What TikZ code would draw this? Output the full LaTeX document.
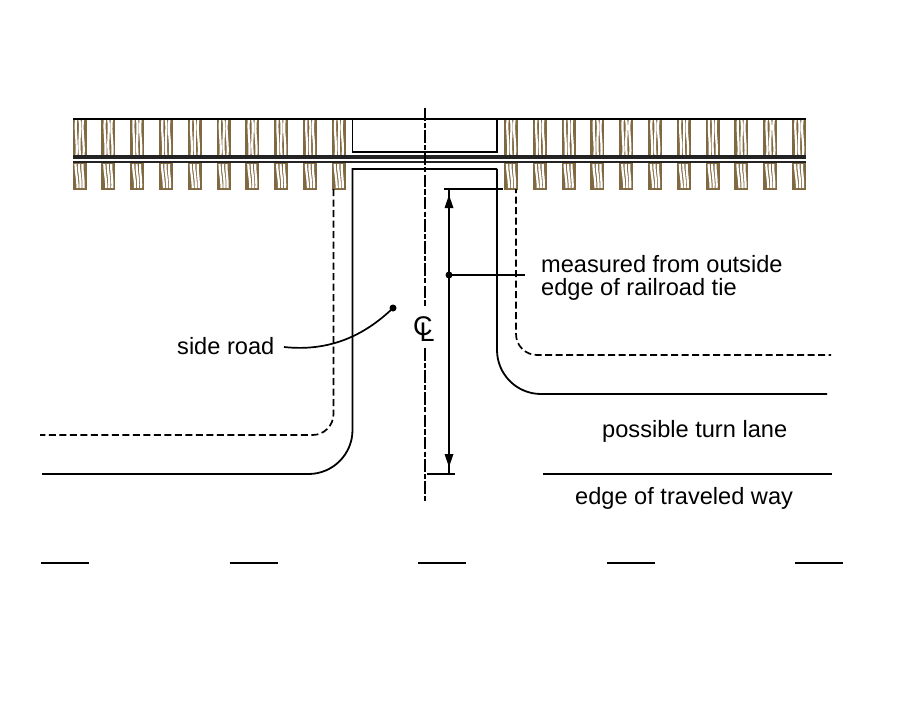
\documentclass[tikz,border=0pt]{standalone}
\usepackage{fontspec}
\setmainfont{Liberation Sans}

\definecolor{woodbrown}{RGB}{128,104,64}
\definecolor{railgray}{RGB}{35,35,35}

\tikzset{
	road/.style={line width=1.8pt, black},
	roaddash/.style={line width=1.7pt, black, dash pattern=on 7pt off 3.5pt},
	centerline/.style={line width=1.8pt, black, dash pattern=on 12.5pt off 2.3pt on 5.1pt off 2.3pt},
	dimline/.style={line width=1.7pt, black},
	streak/.style={line width=2.2pt, white},
	tiebox/.style={line width=1pt, woodbrown, fill=woodbrown},
	textlabel/.style={inner sep=0pt, anchor=base west, font=\fontsize{23.6}{23}\selectfont},
	pics/tietop/.style={code={
		\draw [tiebox] (0,0) rectangle (13,38);
		\draw [streak] (3,1) .. controls (2,12) and (4.5,24) .. (3.5,37);
		\draw [streak] (6.5,1) .. controls (8,10) and (5.5,20) .. (7,37);
		\draw [streak] (10,1) .. controls (8.5,14) and (11.5,22) .. (10.5,37);
	}},
	pics/tiebot/.style={code={
		\draw [tiebox] (0,0) rectangle (13,26);
		\draw [streak] (2.5,1) .. controls (2.5,8) and (4.5,16) .. (4.5,25);
		\draw [streak] (6,1) .. controls (5.5,8) and (8,14) .. (7.5,25);
		\draw [streak] (9.5,1) .. controls (9,8) and (11,16) .. (10.5,25);
	}},
}

\begin{document}
\begin{tikzpicture}[x=1pt, y=-1pt]
	\useasboundingbox (0,0) rectangle (915,707);

	% railroad ties
	\foreach \i in {0,...,9} {
		\pic at ({73+28.8*\i},119) {tietop};
		\pic at ({73+28.8*\i},163) {tiebot};
	}
	\foreach \i in {0,...,10} {
		\pic at ({504.5+28.8*\i},119) {tietop};
		\pic at ({504.5+28.8*\i},163) {tiebot};
	}

	% rails and crossing
	\draw [road] (73,119) -- (806,119);
	\draw [railgray, line width=4.4pt] (73,157.2) -- (806,157.2);
	\draw [railgray, line width=1.8pt] (73,162.2) -- (806,162.2);
	\draw [road] (352.5,119) -- (352.5,152) -- (497,152) -- (497,119);

	% side road
	\draw [road] (497,169) -- (352.5,169) -- (352.5,430) arc (0:90:44) -- (42,474);
	\draw [road] (497,169) -- (497,350) arc (180:90:44) -- (827,394);
	\draw [roaddash] (333.5,189) -- (333.5,414) arc (0:90:21) -- (40,435);
	\draw [roaddash, dash phase=3pt] (516,189) -- (516,334) arc (180:90:21) -- (831,355);
	\draw [road] (543,474) -- (832,474);
	\foreach \x in {41,229.5,418,606.5,795}
		\draw [road] (\x,563) -- +(48,0);

	% center line
	\draw [centerline] (425,108) -- (425,307);
	\draw [centerline] (425,348) -- (425,502);
	\node (cl) at (424,329) [inner sep=0pt, font=\fontsize{27}{27}\selectfont] {C\kern-13pt\raisebox{-6pt}{L}};

	% dimension
	\coordinate (dimtop) at (449,189);
	\coordinate (dimbot) at (449,474);
	\coordinate (dimdot) at (449,275);
	\coordinate (dimend) at (525,275);
	\draw [dimline] (444,189) -- (503,189);
	\draw [dimline] (427,474) -- (455,474);
	\draw [dimline] (dimtop) -- (dimbot);
	\fill (449,195) -- (453.5,208) -- (444.5,208);
	\fill (449,467) -- (453.5,454) -- (444.5,454);
	\fill (dimdot) circle (3.5);
	\draw [dimline] (dimdot) -- (dimend);
	\node (measured) at (541,272) [textlabel] {measured from outside};
	\node (tie) at (541,295) [textlabel] {edge of railroad tie};

	% labels
	\coordinate (roaddot) at (393,308);
	\coordinate (roadend) at (284,347);
	\fill (roaddot) circle (3.5);
	\draw [dimline] (roaddot) .. controls (365,335) and (330,352) .. (roadend);
	\node (sideroad) at (177,354) [textlabel] {side road};
	\node (turnlane) at (602,437) [textlabel] {possible turn lane};
	\node (edgeway) at (575,504) [textlabel] {edge of traveled way};
\end{tikzpicture}
\end{document}
